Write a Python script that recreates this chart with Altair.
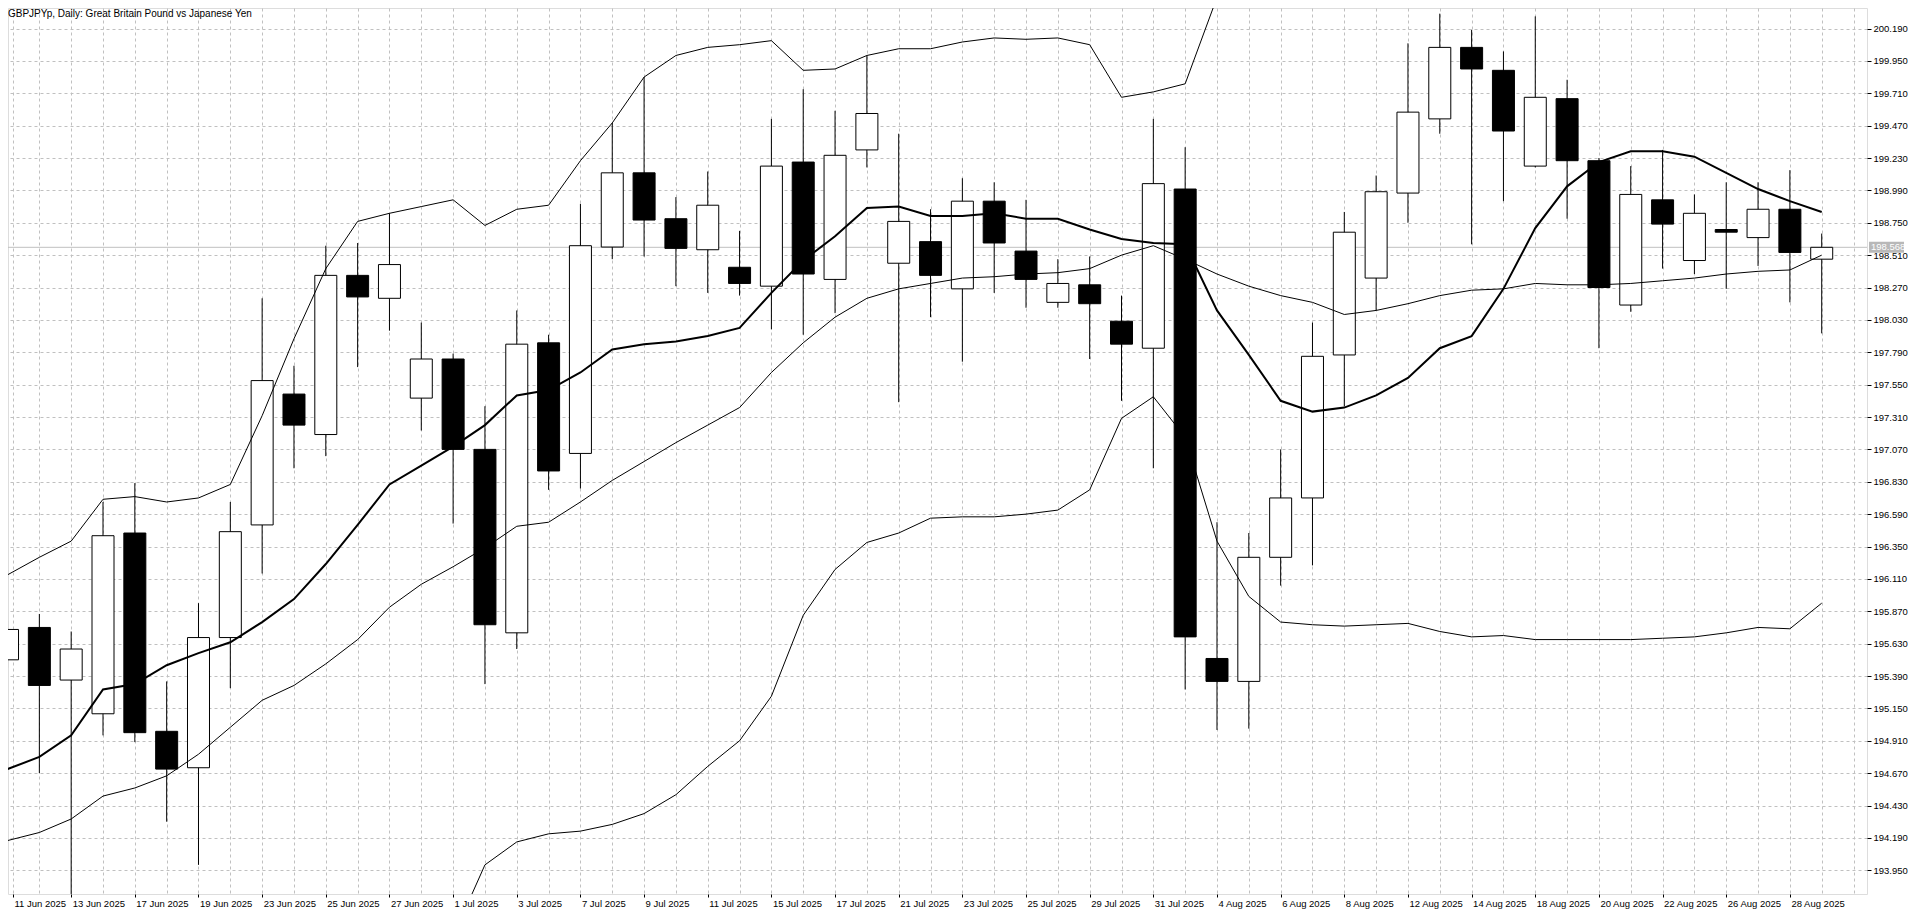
import json
import pandas as pd
import altair as alt

# Chart heading drawn inside the plot, top-left
symbol_title = "GBPJPYp, Daily:  Great Britain Pound vs Japanese Yen"

# Daily bars, 11 Jun 2025 .. 29 Aug 2025
dates = [
    "11 Jun 2025", "12 Jun 2025", "13 Jun 2025", "16 Jun 2025", "17 Jun 2025", "18 Jun 2025",
    "19 Jun 2025", "20 Jun 2025", "23 Jun 2025", "24 Jun 2025", "25 Jun 2025", "26 Jun 2025",
    "27 Jun 2025", "30 Jun 2025", "1 Jul 2025", "2 Jul 2025", "3 Jul 2025", "4 Jul 2025",
    "7 Jul 2025", "8 Jul 2025", "9 Jul 2025", "10 Jul 2025", "11 Jul 2025", "14 Jul 2025",
    "15 Jul 2025", "16 Jul 2025", "17 Jul 2025", "18 Jul 2025", "21 Jul 2025", "22 Jul 2025",
    "23 Jul 2025", "24 Jul 2025", "25 Jul 2025", "28 Jul 2025", "29 Jul 2025", "30 Jul 2025",
    "31 Jul 2025", "1 Aug 2025", "4 Aug 2025", "5 Aug 2025", "6 Aug 2025", "7 Aug 2025",
    "8 Aug 2025", "11 Aug 2025", "12 Aug 2025", "13 Aug 2025", "14 Aug 2025", "15 Aug 2025",
    "18 Aug 2025", "19 Aug 2025", "20 Aug 2025", "21 Aug 2025", "22 Aug 2025", "25 Aug 2025",
    "26 Aug 2025", "27 Aug 2025", "28 Aug 2025", "29 Aug 2025",
]

opens = [
    195.51, 195.75, 195.36, 195.11, 196.45, 194.98, 194.71, 195.675, 196.51, 197.48,
    197.18, 198.36, 198.19, 197.45, 197.74, 197.07, 195.71, 197.86, 197.04, 198.57,
    199.12, 198.78, 198.55, 198.42, 198.28, 199.20, 198.33, 199.29, 198.45, 198.61,
    198.26, 198.91, 198.54, 198.16, 198.29, 198.02, 197.82, 199.00, 195.52, 195.35,
    196.27, 196.71, 197.77, 198.34, 198.97, 199.52, 200.05, 199.88, 199.17, 199.67,
    199.21, 198.14, 198.92, 198.47, 198.70, 198.64, 198.85, 198.48,
]
highs = [
    195.80, 195.85, 195.72, 196.68, 196.82, 195.35, 195.93, 196.68, 198.19, 197.69,
    198.58, 198.60, 198.82, 198.01, 197.78, 197.39, 198.10, 197.92, 198.89, 199.49,
    199.83, 198.94, 199.13, 198.69, 199.52, 199.74, 199.58, 199.99, 199.41, 198.85,
    199.08, 199.05, 198.92, 198.48, 198.50, 198.21, 199.52, 199.31, 196.53, 196.45,
    197.07, 198.01, 198.83, 199.10, 200.08, 200.30, 200.18, 200.02, 200.28, 199.81,
    199.23, 199.17, 199.29, 198.96, 199.05, 199.05, 199.14, 198.67,
]
lows = [
    195.45, 194.67, 193.70, 194.95, 194.90, 194.31, 193.99, 195.30, 196.15, 196.93,
    197.02, 197.68, 197.95, 197.21, 196.52, 195.33, 195.59, 196.77, 196.78, 198.48,
    198.50, 198.28, 198.23, 198.21, 197.96, 197.92, 198.08, 199.16, 197.42, 198.05,
    197.72, 198.23, 198.12, 198.12, 197.74, 197.43, 196.93, 195.29, 194.99, 195.00,
    196.06, 196.21, 197.39, 198.10, 198.75, 199.41, 198.59, 198.91, 199.16, 198.78,
    197.82, 198.09, 198.41, 198.37, 198.26, 198.43, 198.16, 197.93,
]
closes = [
    195.735, 195.32, 195.59, 196.43, 194.97, 194.70, 195.675, 196.46, 197.58, 197.25,
    198.36, 198.20, 198.44, 197.74, 197.07, 195.77, 197.85, 196.91, 198.58, 199.12,
    198.77, 198.56, 198.88, 198.30, 199.17, 198.37, 199.25, 199.56, 198.76, 198.36,
    198.91, 198.60, 198.33, 198.30, 198.15, 197.85, 199.04, 195.68, 195.35, 196.27,
    196.71, 197.76, 198.68, 198.98, 199.57, 200.05, 199.89, 199.43, 199.68, 199.21,
    198.27, 198.96, 198.74, 198.82, 198.68, 198.85, 198.53, 198.568,
]

# Indicator lines (None = outside the visible price range)
ma_fast = [
    194.70, 194.79, 194.95, 195.29, 195.33, 195.47, 195.56, 195.64, 195.79, 195.96,
    196.22, 196.51, 196.81, 196.95, 197.09, 197.25, 197.47, 197.51, 197.64, 197.81,
    197.85, 197.87, 197.91, 197.97, 198.23, 198.47, 198.65, 198.86, 198.87, 198.80,
    198.80, 198.82, 198.78, 198.78, 198.70, 198.63, 198.60, 198.59, 198.10, 197.77,
    197.43, 197.35, 197.38, 197.47, 197.60, 197.82, 197.91, 198.26, 198.71, 199.02,
    199.20, 199.28, 199.28, 199.24, 199.12, 199.00, 198.91, 198.83,
]
band_upper = [
    196.14, 196.27, 196.39, 196.70, 196.72, 196.68, 196.71, 196.81, 197.32, 197.89,
    198.41, 198.76, 198.82, 198.87, 198.92, 198.73, 198.85, 198.88, 199.21, 199.49,
    199.83, 199.99, 200.05, 200.07, 200.10, 199.88, 199.89, 199.99, 200.04, 200.04,
    200.09, 200.12, 200.11, 200.12, 200.07, 199.68, 199.72, 199.78, 200.42, None,
    None, None, 200.40, 200.36, 200.55, None, None, None, None, None,
    None, None, None, None, None, None, None, None,
]
band_middle = [
    194.17, 194.23, 194.33, 194.50, 194.56, 194.65, 194.81, 195.01, 195.21, 195.32,
    195.48, 195.66, 195.90, 196.07, 196.20, 196.34, 196.50, 196.53, 196.68, 196.84,
    196.98, 197.12, 197.25, 197.38, 197.64, 197.86, 198.05, 198.19, 198.26, 198.30,
    198.34, 198.35, 198.37, 198.38, 198.41, 198.51, 198.58, 198.48, 198.37, 198.28,
    198.21, 198.16, 198.07, 198.10, 198.15, 198.21, 198.25, 198.26, 198.30, 198.29,
    198.29, 198.30, 198.32, 198.34, 198.37, 198.39, 198.40, 198.51,
]
band_lower = [None] * 14 + [
    193.46, 193.99, 194.16, 194.22, 194.24, 194.29, 194.37, 194.51, 194.72, 194.91,
    195.24, 195.84, 196.18, 196.38, 196.45, 196.56, 196.57, 196.57, 196.59, 196.62,
    196.77, 197.30, 197.46, 197.16, 196.39, 195.98, 195.79, 195.77, 195.76, 195.77,
    195.78, 195.72, 195.68, 195.69, 195.66, 195.66, 195.66, 195.66, 195.67, 195.68,
    195.71, 195.75, 195.74, 195.93,
]

price_ticks = [
    193.950, 194.190, 194.430, 194.670, 194.910, 195.150, 195.390, 195.630, 195.870,
    196.110, 196.350, 196.590, 196.830, 197.070, 197.310, 197.550, 197.790, 198.030,
    198.270, 198.510, 198.750, 198.990, 199.230, 199.470, 199.710, 199.950, 200.190,
]
last_price = 198.568

bar_idx = list(range(len(dates)))

candles = pd.DataFrame({
    "i": bar_idx, "date": dates,
    "open": opens, "high": highs, "low": lows, "close": closes,
})

# long table of indicator lines, split into unbroken runs
rows = []
for name, vals in [("upper", band_upper), ("middle", band_middle),
                   ("lower", band_lower), ("ma", ma_fast)]:
    run = 0
    prev_ok = False
    for i, v in enumerate(vals):
        if v is None:
            prev_ok = False
            continue
        if not prev_ok:
            run += 1
        rows.append({"i": i, "value": v, "run": f"{name}{run}",
                     "kind": "ma" if name == "ma" else "band"})
        prev_ok = True
lines = pd.DataFrame(rows)

font = "Liberation Sans"
grid_grey = "#c0c0c0"

# date labels on every second bar
axis_labels = [d if k % 2 == 0 else "" for k, d in enumerate(dates)]
x_start = 0.171875
x_scale = alt.Scale(domain=[x_start, x_start + 1859 / 32], nice=False, zero=False)
y_scale = alt.Scale(domain=[193.774, 200.342], nice=False, zero=False)

x_axis = alt.Axis(
    values=[x_start] + bar_idx[1:] + [58],
    labelExpr=f"{json.dumps(axis_labels)}[round(datum.value)] || ''",
    grid=True, gridDash=[3, 3], gridColor=grid_grey,
    domain=False, tickColor="black", tickSize=3,
    tickOpacity={"condition": {"test": "datum.value < 1 || (datum.value % 2 == 0 && datum.value <= 56)",
                               "value": 1}, "value": 0},
    labelAlign="left", labelBaseline="top", labelPadding=1, labelOffset=1,
    labelFont=font, labelFontSize=9.5, labelColor="black",
    labelOverlap=False, labelFlush=False, title=None,
)
y_axis = alt.Axis(
    orient="right", values=price_ticks, format=".3f",
    grid=True, gridDash=[3, 3], gridColor=grid_grey,
    domain=False, tickColor="black", tickSize=4, labelPadding=2,
    labelFont=font, labelFontSize=9.5, labelColor="black",
    labelOverlap=False, labelFlush=False, title=None,
)


def xenc():
    return alt.X("i:Q", scale=x_scale, axis=x_axis)


def yenc(field):
    return alt.Y(f"{field}:Q", scale=y_scale, axis=y_axis)


price_df = pd.DataFrame({"price": [last_price], "label": [f"{last_price:.3f}"]})

price_line = alt.Chart(price_df).mark_rule(color=grid_grey, strokeWidth=1).encode(
    y=yenc("price")
)

wicks = alt.Chart(candles).mark_rule(color="black", strokeWidth=1, clip=True).encode(
    x=xenc(), y=yenc("low"), y2="high"
)

bodies = alt.Chart(candles).mark_bar(size=22, stroke="black", strokeWidth=1, clip=True).encode(
    x=xenc(), y=yenc("open"), y2="close",
    fill=alt.condition("datum.close >= datum.open", alt.value("white"), alt.value("black")),
    tooltip=["date:N", "open:Q", "high:Q", "low:Q", "close:Q"],
)

bands = alt.Chart(lines[lines["kind"] == "band"]).mark_line(
    color="black", strokeWidth=1, clip=True
).encode(x=xenc(), y=yenc("value"), detail="run:N", order="i:Q")

ma_line = alt.Chart(lines[lines["kind"] == "ma"]).mark_line(
    color="black", strokeWidth=2, clip=True
).encode(x=xenc(), y=yenc("value"), detail="run:N", order="i:Q")

price_box = alt.Chart(price_df).mark_tick(
    orient="horizontal", size=35, thickness=11, color="#b8b8b8", opacity=1
).encode(x=alt.value(1878.5), y=yenc("price"))

price_text = alt.Chart(price_df).mark_text(
    align="left", baseline="middle", color="white", font=font, fontSize=9.5
).encode(x=alt.value(1863), y=yenc("price"), text="label:N")

heading = alt.Chart(pd.DataFrame({"t": [symbol_title]})).mark_text(
    align="left", baseline="top", color="black", font=font, fontSize=10
).encode(x=alt.value(0), y=alt.value(1), text="t:N")

chart = alt.layer(
    price_line, wicks, bodies, bands, ma_line, price_box, price_text, heading
).properties(
    width=1859,
    height=886,
    autosize=alt.AutoSizeParams(type="none"),
    padding={"left": 0, "top": 0, "right": 44, "bottom": 16},
).configure_view(
    stroke="black", strokeWidth=1
).configure(background="white")

chart.save("out.html", embed_options={"renderer": "svg", "actions": False})
